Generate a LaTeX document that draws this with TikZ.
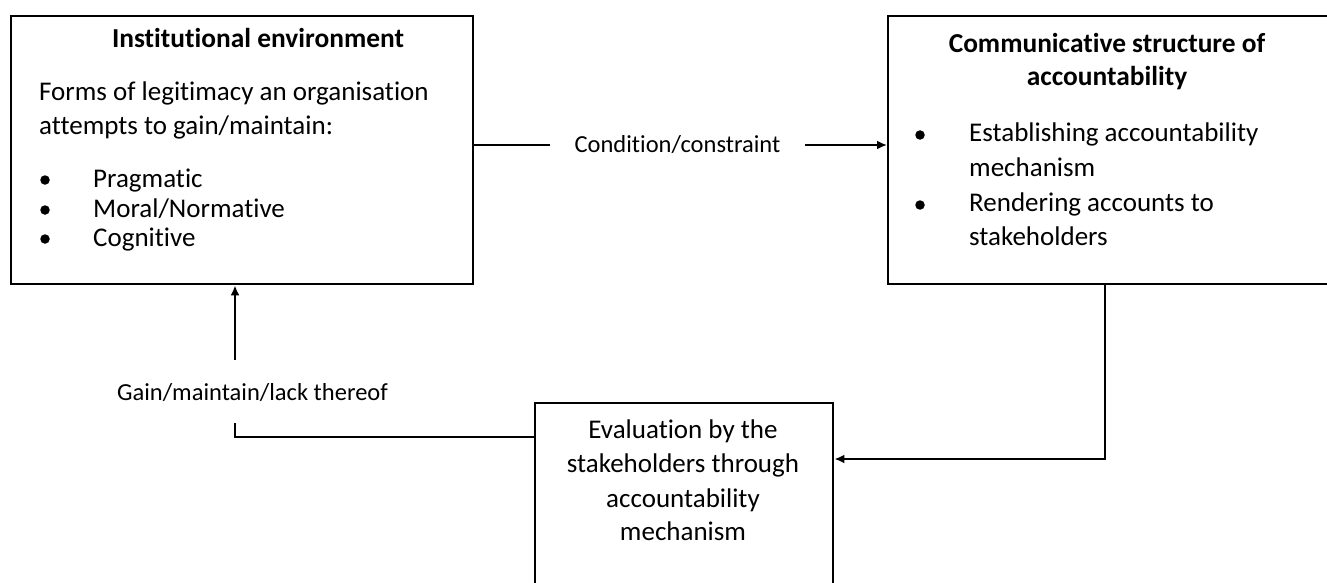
\documentclass[tikz,border=0pt]{standalone}
\usepackage{fontspec}
\setmainfont{Carlito}[Ligatures=NoCommon]
\usetikzlibrary{arrows.meta}

\tikzset{
  box/.style={rectangle, draw, line width=2.4pt, inner sep=0pt, anchor=north west},
  body/.style={inner sep=0pt, font=\fontsize{27}{35}\selectfont},
  head/.style={body, font=\fontsize{27.4}{35}\selectfont\bfseries},
  lbl/.style={inner sep=0pt, font=\fontsize{24.5}{28}\selectfont},
  dot/.style={circle, fill, inner sep=0pt, minimum size=9.5pt},
  link/.style={line width=2.6pt},
  arr/.style={link, -{Latex[length=10pt,width=9pt]}},
}

\begin{document}
\begin{tikzpicture}[x=1pt, y=-1pt]
        \useasboundingbox (0,0) rectangle (1327,583);
        \clip (0,0) rectangle (1327,583);

        % Boxes
        \node (env) [box, minimum width=462pt, minimum height=268pt] at (10,15) {};
        \node (comm) [box, minimum width=470pt, minimum height=268pt] at (887,15) {};
        \node (eval) [box, minimum width=298pt, minimum height=230pt] at (534,402) {};

        % Institutional environment
        \node (env-head) [head, anchor=base] at (258,48) {Institutional environment};
        \node (env-l1) [body, anchor=base west] at (39,101) {Forms of legitimacy an organisation};
        \node (env-l2) [body, anchor=base west] at (39,135) {attempts to gain/maintain:};
        \node (env-b1) [dot] at (45,180) {};
        \node (env-b2) [dot] at (45,210) {};
        \node (env-b3) [dot] at (45,239) {};
        \node (env-i1) [body, anchor=base west] at (93,187) {Pragmatic};
        \node (env-i2) [body, anchor=base west] at (93,217) {Moral/Normative};
        \node (env-i3) [body, anchor=base west] at (93,246) {Cognitive};

        % Communicative structure
        \node (comm-h1) [head, anchor=base] at (1107,53) {Communicative structure of};
        \node (comm-h2) [head, anchor=base] at (1107,86) {accountability};
        \node (comm-b1) [dot] at (920,135) {};
        \node (comm-b2) [dot] at (920,205) {};
        \node (comm-i1) [body, anchor=base west] at (969,142) {Establishing accountability};
        \node (comm-i2) [body, anchor=base west] at (969,176) {mechanism};
        \node (comm-i3) [body, anchor=base west] at (969,211) {Rendering accounts to};
        \node (comm-i4) [body, anchor=base west] at (969,245) {stakeholders};

        % Evaluation
        \node (eval-l1) [body, anchor=base] at (683,438) {Evaluation by the};
        \node (eval-l2) [body, anchor=base] at (683,472) {stakeholders through};
        \node (eval-l3) [body, anchor=base] at (683,507) {accountability};
        \node (eval-l4) [body, anchor=base] at (683,540) {mechanism};

        % Labels
        \node (cond) [lbl, minimum width=255pt, text height=17pt, text depth=3pt] at (677.5,145) {Condition/constraint};
        \node (gain) [lbl, minimum height=63pt, text height=20pt, text depth=3pt] at (252.5,391.5) {Gain/maintain/lack thereof};
        \coordinate (c1) at (1105,459);
        \coordinate (c2) at (235,437);

        % Edges
        \draw[link] (env.east |- cond) -- (cond.west);
        \draw[arr] (cond.east) -- (comm.west |- cond);
        \draw[arr] (comm.south -| c1) |- (eval.east |- c1);
        \draw[link] (eval.west |- c2) -| (gain.south -| c2);
        \draw[arr] (gain.north -| c2) -- (env.south -| c2);

    \end{tikzpicture}
\end{document}
